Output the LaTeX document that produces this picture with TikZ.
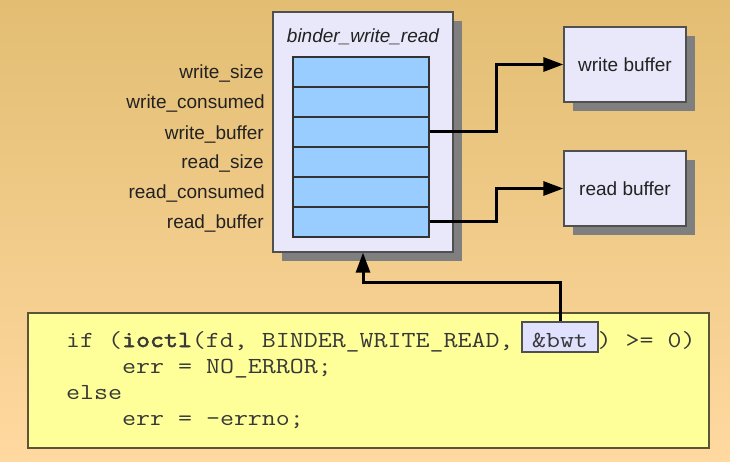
\documentclass[tikz,border=0pt]{standalone}
\usepackage{fontspec}
\setmainfont{Liberation Sans}
\newfontfamily\codefont{Latin Modern Mono}[FakeStretch=1.18,AutoFakeBold=2.5]
\usetikzlibrary{arrows.meta,shadows}
\definecolor{bgtop}{HTML}{E2BD72}
\definecolor{bgmid}{HTML}{F6CF8B}
\definecolor{bgbot}{HTML}{FFD9A0}
\definecolor{lav}{HTML}{E8E8FA}
\definecolor{rowblue}{HTML}{99CCFF}
\definecolor{shadowc}{HTML}{7F7F7F}
\definecolor{codefill}{HTML}{FFFF99}
\definecolor{codeedge}{HTML}{5A5538}
\definecolor{bwtfill}{HTML}{E0E0FF}
\definecolor{edge}{HTML}{505050}
\definecolor{txt}{HTML}{222222}
\tikzset{
  boxshadow/.style={drop shadow={shadow xshift=9pt,shadow yshift=-9pt,opacity=1,fill=shadowc}},
  structbox/.style={draw=edge,line width=1.3pt,fill=lav,inner sep=0pt,boxshadow},
  rowbox/.style={draw=black!80,line width=1.1pt,fill=rowblue,minimum width=136pt,minimum height=30pt,inner sep=0pt},
  lbl/.style={anchor=base east,inner sep=0pt,font=\fontsize{19}{22}\selectfont,text=txt},
  bufbox/.style={draw=edge,line width=1.3pt,fill=lav,minimum width=122pt,minimum height=75pt,inner sep=0pt,font=\fontsize{19}{22}\selectfont,text=txt,boxshadow},
  conn/.style={line width=3pt,-{Triangle[length=20pt,width=14pt]}},
  codebox/.style={draw=codeedge,line width=1.3pt,fill=codefill,inner sep=0pt},
  codeline/.style={anchor=base west,inner sep=0pt,font=\codefont\fontsize{23}{26}\selectfont,text=black!78},
  bwtbox/.style={draw=edge,line width=1.2pt,fill=bwtfill,inner sep=0pt,minimum width=76pt,text height=25pt,text depth=5pt,font=\codefont\fontsize{23}{26}\selectfont,text=black!78}
}
\begin{document}
\begin{tikzpicture}[x=1pt,y=-1pt]
\useasboundingbox (0,0) rectangle (730,462);
\shade[top color=bgtop,middle color=bgmid,bottom color=bgbot] (0,0) rectangle (730,462);
% struct
\node[structbox,minimum width=180pt,minimum height=240pt] (bwr) at (363,132) {};
\node[inner sep=0pt,font=\fontsize{19}{22}\selectfont\itshape,text=txt] (title) at (363,37) {binder\_write\_read};
\node[rowbox] (r1) at (361,72) {};
\node[rowbox] (r2) at (361,102) {};
\node[rowbox] (r3) at (361,132) {};
\node[rowbox] (r4) at (361,162) {};
\node[rowbox] (r5) at (361,192) {};
\node[rowbox] (r6) at (361,222) {};
\node[lbl] (l1) at (264,79) {write\_size};
\node[lbl] (l2) at (265,109) {write\_consumed};
\node[lbl] (l3) at (264,140) {write\_buffer};
\node[lbl] (l4) at (264,169) {read\_size};
\node[lbl] (l5) at (265,199) {read\_consumed};
\node[lbl] (l6) at (264,229) {read\_buffer};
% buffers
\node[bufbox] (wb) at (625,64.5) {write buffer};
\node[bufbox] (rb) at (625,188.5) {read buffer};
\draw[conn] (r3.east) -- ++(67,0) |- (wb.west);
\draw[conn] (r6.east) -- ++(67,0) |- (rb.west);
% code
\node[codebox,minimum width=681pt,minimum height=135pt] (code) at (368.5,380.5) {};
\node[codeline] (c1) at (66,347) {if (\textbf{ioctl}(fd, BINDER\_WRITE\_READ,};
\node[bwtbox,anchor=base] (bwt) at (560,347) {\&bwt};
\node[codeline] (c1b) at (597.5,347) {) >= 0)};
\node[codeline] (c2) at (122,373) {err = NO\_ERROR;};
\node[codeline] (c3) at (66,399) {else};
\node[codeline] (c4) at (122,425) {err = -errno;};
\draw[conn] (bwt.north) -- ++(0,-39) -| (bwr.south);
\end{tikzpicture}
\end{document}
